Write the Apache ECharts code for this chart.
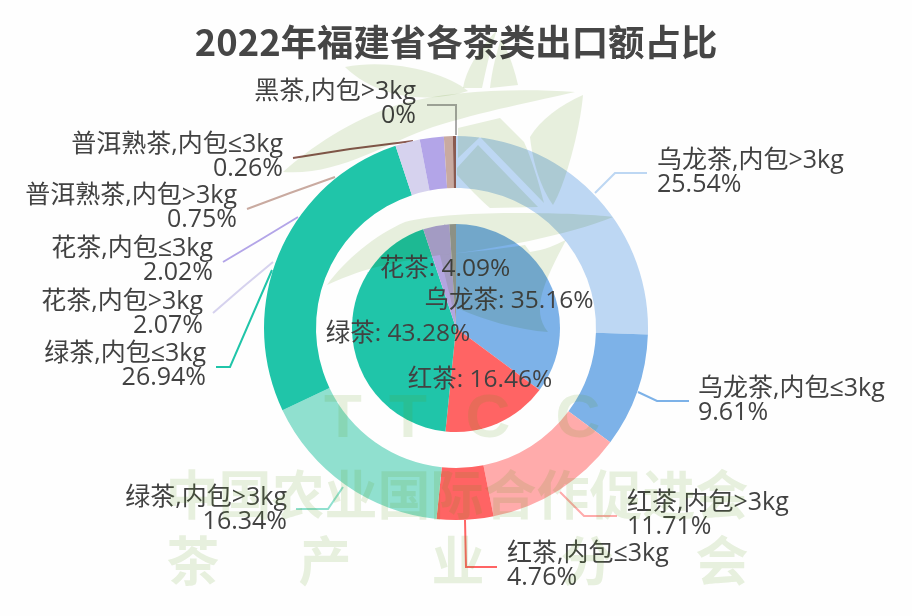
<!DOCTYPE html>
<html>
<head>
<meta charset="utf-8">
<style>
html, body { margin: 0; padding: 0; background: #fefefe; }
#chart { width: 912px; height: 616px; }
</style>
<script src="https://cdn.jsdelivr.net/npm/echarts@6/dist/echarts.min.js"></script>
</head>
<body>
<div id="chart"></div>
<script>
var titleText = '2022年福建省各茶类出口额占比';

// 外环：按包装细分
var outerNames = ['乌龙茶,内包>3kg', '乌龙茶,内包≤3kg', '红茶,内包>3kg', '红茶,内包≤3kg', '绿茶,内包>3kg', '绿茶,内包≤3kg', '花茶,内包>3kg', '花茶,内包≤3kg', '普洱熟茶,内包>3kg', '普洱熟茶,内包≤3kg', '黑茶,内包>3kg'];
var outerValues = [25.54, 9.61, 11.71, 4.76, 16.34, 26.94, 2.07, 2.02, 0.75, 0.26, 0];
var outerColors = ['#bdd7f3', '#7db2e8', '#ffabab', '#ff6464', '#90e0cf', '#20c5a9', '#d6d2ee', '#b3a5e8', '#c9aaa0', '#8a5a50', '#aaaaaa'];

// 内圈：按茶类
var innerNames = ['乌龙茶', '红茶', '绿茶', '花茶', '普洱熟茶'];
var innerValues = [35.16, 16.46, 43.28, 4.09, 1.01];
var innerColors = ['#7db2e8', '#ff6464', '#20c5a9', '#b3a5e0', '#9a9a9a'];

// 外环标签位置与引导线 [x, y, align, 引导线点]
var outerLayout = [
    [657, 173, 'left', [[595, 193], [615, 173], [647, 173]]],
    [698, 401, 'left', [[638, 392], [657, 401], [689, 401]]],
    [627, 515, 'left', [[560, 492], [584, 516], [617, 516]]],
    [507, 566, 'left', [[465, 520], [466, 567], [497, 567]]],
    [287, 510, 'right', [[343, 487], [328, 509], [296, 509]]],
    [206, 366, 'right', [[272, 270], [230, 367], [216, 367]]],
    [203, 314, 'right', [[273, 262], [243, 287], [213, 313]]],
    [213, 261, 'right', [[298, 217], [260, 240], [223, 262]]],
    [237, 208, 'right', [[335, 177], [290, 193], [247, 209]]],
    [283, 157, 'right', [[413, 141], [350, 149], [293, 158]]],
    [416, 104, 'right', [[456, 135], [456, 105], [427, 105]]]
];
var innerLayout = [[509, 301], [480, 380], [398, 334], [445, 269], [456, 240]];

// 水印
var leafPaths = [
    'M345,67 C390,58 445,72 468,91 C440,100 385,105 345,67 Z',
    'M497,30 C478,50 466,70 463,88 L482,88 C486,70 490,50 497,30 Z',
    'M501,38 C510,55 515,72 518,85 L490,88 C492,70 496,55 501,38 Z',
    'M283,172 C310,148 350,120 400,104 C450,90 520,88 575,92 C540,100 480,112 433,127 C385,143 340,176 283,172 Z',
    'M583,95 C560,105 540,120 530,137 C533,165 542,190 553,205 C565,185 580,130 583,95 Z',
    'M458,158 L480,137 L544,203 C538,180 532,160 524,142 L500,118 L458,128 Z',
    'M457,168 L478,145 L538,207 L490,208 C475,195 462,180 457,175 Z',
    'M613,217 C570,212 450,210 405,222 C375,235 345,260 327,285 C370,265 400,262 440,255 C490,250 570,235 613,217 Z',
    'M440,255 C470,252 500,249 525,245 L530,252 C545,250 555,245 566,240 C545,280 530,310 548,332 C520,330 480,320 452,305 Z'
];
var wmLetters = ['T', 'T', 'C', 'C'];
var wmLetterX = [343, 408, 488, 578];
var wmLine1 = '中国农业国际合作促进会';
var wmLine2 = ['茶', '产', '业', '分', '会'];
var wmLine2X = [193, 325, 458, 587, 722];

var tint = '#e8f0de';
var wmTextFill = 'rgb(94,156,25)';
var wmTextOpacity = 0.14;
var fontCjk = '"Noto Sans CJK SC"';
var fontLabel = '"Open Sans","Noto Sans CJK SC"';
var textColor = '#424242';

function wmText(x, y, text, font) {
    return {
        type: 'text', z: 100, silent: true,
        style: { x: x, y: y, text: text, fill: wmTextFill, opacity: wmTextOpacity, textAlign: 'center', textVerticalAlign: 'middle', font: font }
    };
}

function buildWatermark() {
    var list = [];
    for (var i = 0; i < leafPaths.length; i++) {
        // graphic组件没有path类型，这里注册成自定义形状
        echarts.graphic.registerShape('teaLeaf' + i, echarts.graphic.extendPath(leafPaths[i], {}));
        list.push({
            type: 'teaLeaf' + i, z: 100, silent: true,
            style: { fill: tint, blend: 'multiply' }
        });
    }
    for (var j = 0; j < wmLetters.length; j++) {
        list.push(wmText(wmLetterX[j], 420, wmLetters[j], 'bold 62px "Liberation Sans"'));
    }
    list.push(wmText(457, 495, wmLine1, 'bold 53px ' + fontCjk));
    for (var k = 0; k < wmLine2.length; k++) {
        list.push(wmText(wmLine2X[k], 561, wmLine2[k], 'bold 53px ' + fontCjk));
    }
    return list;
}

function buildData(names, values, colors) {
    var data = [];
    for (var i = 0; i < names.length; i++) {
        data.push({ name: names[i], value: values[i], itemStyle: { color: colors[i] } });
    }
    return data;
}

var innerData = buildData(innerNames, innerValues, innerColors);
innerData[4].label = { show: false };
innerData[4].labelLine = { show: false };

var chart = echarts.init(document.getElementById('chart'));
chart.setOption({
    animation: false,
    backgroundColor: '#fefefe',
    title: {
        text: titleText,
        left: 'center',
        top: 19,
        textStyle: { fontFamily: fontCjk, fontSize: 36.4, fontWeight: 'bold', color: '#464646' }
    },
    graphic: buildWatermark(),
    series: [{
        name: '茶类',
        type: 'pie',
        center: [456, 328],
        radius: [0, 104],
        startAngle: 90,
        silent: true,
        data: innerData,
        label: {
            position: 'inside',
            formatter: '{b}: {c}%',
            fontFamily: fontLabel,
            fontSize: 24.5,
            color: textColor
        },
        labelLayout: function (params) {
            var pos = innerLayout[params.dataIndex];
            return { x: pos[0], y: pos[1], align: 'center', verticalAlign: 'middle' };
        }
    }, {
        name: '包装',
        type: 'pie',
        center: [456, 328],
        radius: [140, 192],
        startAngle: 90,
        silent: true,
        data: buildData(outerNames, outerValues, outerColors),
        label: {
            formatter: '{b}\n{c}%',
            fontFamily: fontLabel,
            fontSize: 25,
            lineHeight: 24,
            color: textColor
        },
        labelLine: {
            show: true,
            lineStyle: { width: 2 }
        },
        labelLayout: function (params) {
            var pos = outerLayout[params.dataIndex];
            return {
                x: pos[0],
                y: pos[1],
                align: pos[2],
                verticalAlign: 'middle',
                labelLinePoints: pos[3]
            };
        }
    }]
});
</script>
</body>
</html>
